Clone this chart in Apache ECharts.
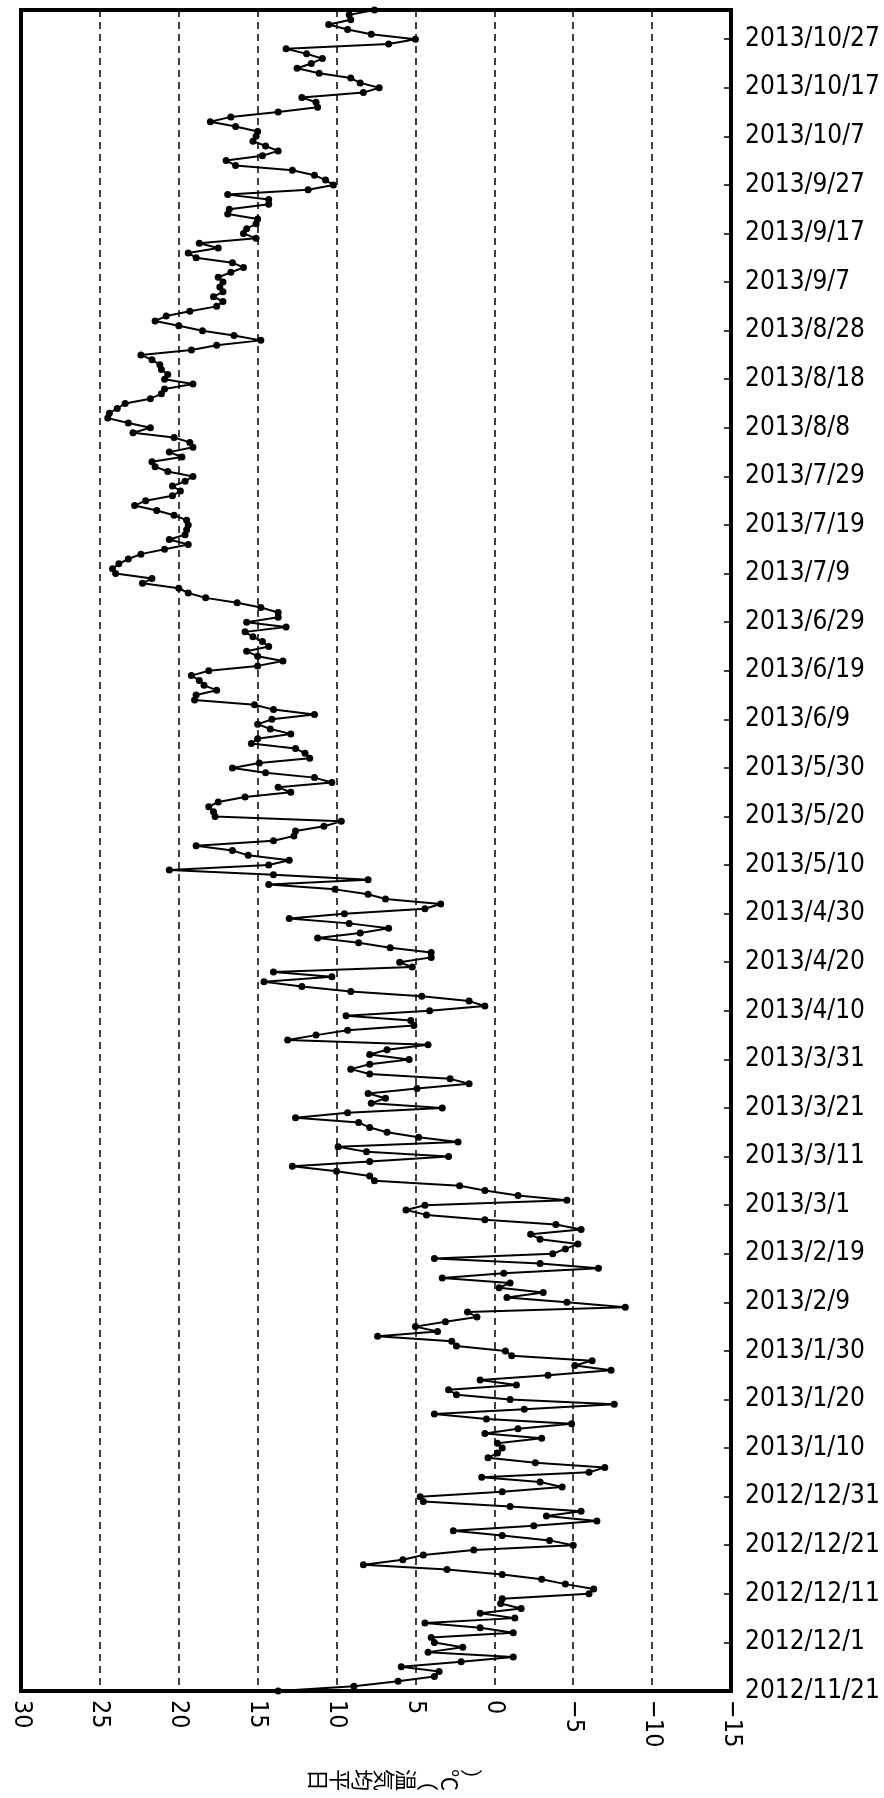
<!DOCTYPE html>
<html>
<head>
<meta charset="utf-8">
<script src="https://cdn.jsdelivr.net/npm/echarts@6/dist/echarts.min.js"></script>
<style>
  html, body { margin: 0; padding: 0; background: #fff; }
  #chart { width: 884px; height: 1798px; }
</style>
</head>
<body>
<div id="chart"></div>
<script>
// daily mean temperature, 2012/11/21 .. 2013/11/2
const startDate = [2012, 11, 21]
const nov2012 = [13.7, 8.9, 6.1, 3.8, 3.5, 5.9, 2.1, -1.2, 4.2, 2.0]
const dec2012 = [3.8, 4.0, -1.2, 0.9, 4.4, -1.3, 0.9, -1.7, -0.4, -0.5, -6.0, -6.3, -4.5, -3.0, -0.5, 3.0,
  8.3, 5.8, 4.5, 1.3, -5.0, -3.5, -0.5, 2.6, -2.5, -6.5, -3.3, -5.5, -1.0, 4.5, 4.7]
const jan2013 = [-0.5, -4.3, -2.9, 0.8, -6.0, -7.0, -2.6, 0.4, -0.2, -0.5, -0.2, -3.0, 0.6, -1.5, -4.9, 0.5,
  3.8, -1.9, -7.6, -1.0, 2.4, 2.9, -1.4, 0.9, -3.4, -7.4, -5.1, -6.2, -1.1, -0.7, 2.4]
const feb2013 = [2.7, 7.4, 3.6, 5.0, 3.1, 1.1, 1.7, -8.3, -4.6, -0.8, -3.1, -0.3, -1.0, 3.3, -0.6, -6.6,
  -2.9, 3.8, -3.7, -4.5, -5.3, -2.9, -2.3, -5.5, -3.9, 0.6, 4.3, 5.6]
const mar2013 = [4.4, -4.6, -1.5, 0.6, 2.2, 7.6, 7.9, 10.0, 12.8, 7.9, 2.9, 8.1, 9.9, 2.3, 4.8, 6.8,
  7.9, 8.6, 12.6, 9.3, 3.3, 7.8, 6.9, 8.0, 4.9, 1.6, 2.8, 7.9, 9.1, 7.9, 5.4]
const apr2013 = [7.9, 6.8, 4.2, 13.1, 11.3, 9.3, 5.1, 5.3, 9.4, 4.1, 0.6, 1.6, 4.6, 9.1, 12.2, 14.6,
  10.3, 14.0, 5.2, 6.0, 4.0, 4.0, 6.6, 8.6, 11.2, 8.5, 6.7, 9.2, 13.0, 9.5]
const may2013 = [4.4, 3.4, 6.9, 8.0, 10.1, 14.3, 8.0, 14.0, 20.6, 14.3, 13.0, 15.6, 16.6, 18.9, 14.0, 12.7,
  12.6, 10.8, 9.7, 17.7, 17.8, 18.1, 17.5, 15.8, 12.9, 13.7, 10.3, 11.4, 14.5, 16.6, 14.9]
const jun2013 = [11.7, 12.0, 12.6, 15.4, 15.0, 12.9, 14.2, 15.0, 14.1, 11.4, 14.0, 15.2, 19.0, 18.9, 17.6,
  18.4, 18.7, 19.2, 18.1, 15.0, 13.4, 15.0, 15.7, 14.3, 14.7, 15.3, 15.8, 13.2, 15.7, 13.7]
const jul2013 = [13.7, 14.8, 16.3, 18.3, 19.4, 20.0, 22.3, 21.7, 24.0, 24.2, 23.8, 23.2, 22.4, 20.9, 19.4,
  20.6, 19.6, 19.5, 19.4, 19.5, 20.3, 21.4, 22.8, 22.1, 20.4, 19.9, 20.4, 19.6, 19.1, 20.7, 21.5]
const aug2013 = [21.7, 19.8, 20.6, 19.1, 19.3, 20.3, 22.9, 21.8, 23.2, 24.5, 24.4, 23.9, 23.4, 21.8, 21.1,
  20.9, 19.1, 20.9, 20.7, 21.1, 21.2, 21.7, 22.4, 19.2, 17.6, 14.8, 16.5, 18.5, 20.0, 21.5, 20.8]
const sep2013 = [19.3, 17.6, 17.2, 17.8, 17.2, 17.4, 17.2, 17.5, 16.7, 15.9, 16.6, 18.9, 19.4, 17.5, 18.7,
  15.1, 15.9, 15.7, 15.1, 15.0, 16.9, 16.8, 14.3, 14.3, 16.9, 11.8, 10.2, 10.7, 11.4, 12.8]
const oct2013 = [16.4, 17.0, 14.7, 13.7, 14.5, 15.3, 15.1, 15.0, 16.4, 18.0, 16.7, 13.7, 11.2, 11.3, 12.2,
  8.3, 7.3, 8.5, 9.1, 11.1, 12.5, 11.6, 10.9, 11.9, 13.2, 6.7, 5.0, 7.8, 9.3, 10.5, 9.1]
const nov2013 = [9.2, 7.6]

const xTicks = { min: -15, max: 30, step: 5 }
const axisTitle = '日平均気温（℃）'

const temps = [].concat(nov2012, dec2012, jan2013, feb2013, mar2013, apr2013, may2013,
  jun2013, jul2013, aug2013, sep2013, oct2013, nov2013)

const dates = []
for (let i = 0; i < temps.length; i++) {
  const d = new Date(startDate[0], startDate[1] - 1, startDate[2] + i)
  dates.push(`${d.getFullYear()}/${d.getMonth() + 1}/${d.getDate()}`)
}

const chart = echarts.init(document.getElementById('chart'), null, { renderer: 'canvas' })

chart.setOption({
  animation: false,
  backgroundColor: '#fff',
  grid: {
    left: 21,
    right: 153,
    top: 10,
    bottom: 107,
    show: true,
    borderColor: '#000',
    borderWidth: 4,
  },
  xAxis: {
    type: 'value',
    inverse: true,
    min: xTicks.min,
    max: xTicks.max,
    interval: xTicks.step,
    axisLine: { show: false, onZero: false },
    axisTick: { show: false },
    splitLine: { lineStyle: { color: '#000', type: [7, 5], width: 1.5 } },
    axisLabel: {
      rotate: -90,
      margin: 9,
      color: '#000',
      fontSize: 25,
      fontFamily: 'DejaVu Sans Condensed, DejaVu Sans, sans-serif',
      formatter: v => (v < 0 ? '\u2212' + Math.abs(v) : String(v)),
    },
  },
  yAxis: {
    type: 'category',
    position: 'right',
    boundaryGap: false,
    data: dates,
    axisLine: { show: false, onZero: false },
    axisTick: { show: true, inside: true, interval: 9, length: 7, lineStyle: { color: '#000', width: 1.5 } },
    splitLine: { show: false },
    axisLabel: {
      interval: 9,
      margin: 14,
      color: '#000',
      fontSize: 26,
      fontFamily: 'DejaVu Sans Condensed, DejaVu Sans, sans-serif',
    },
  },
  graphic: [{
    type: 'text',
    x: 395,
    y: 1780,
    rotation: -Math.PI / 2,
    style: {
      text: axisTitle.split('').reverse().join('\n'),
      font: '22px "Noto Sans CJK JP"',
      fill: '#000',
      align: 'center',
      verticalAlign: 'middle',
      lineHeight: 22,
    },
  }],
  series: [{
    type: 'line',
    data: temps.map((t, i) => [t, dates[i]]),
    symbol: 'circle',
    symbolSize: 7,
    showAllSymbol: true,
    itemStyle: { color: '#000' },
    lineStyle: { color: '#000', width: 2 },
  }],
})
</script>
</body>
</html>
